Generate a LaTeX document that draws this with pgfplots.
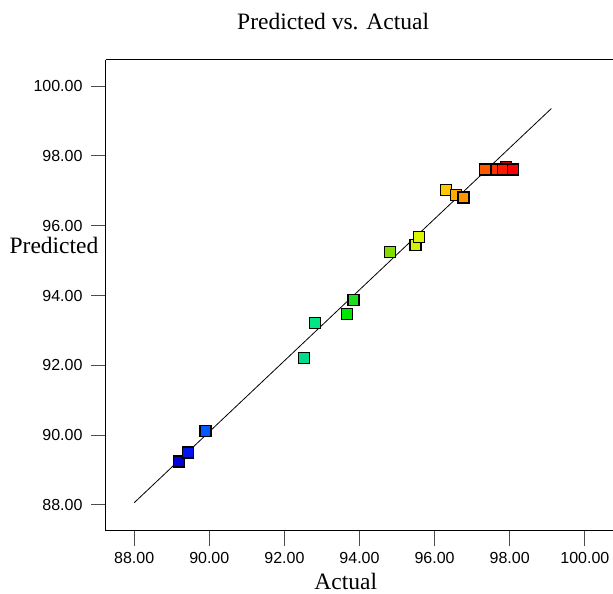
\documentclass[border=0pt]{standalone}
\usepackage{fontspec}
\setmainfont{Liberation Serif}
\newfontfamily\ticksf{Liberation Sans}
\usepackage{pgfplots}
\pgfplotsset{compat=1.18}
\pgfplotstableread{
x y m
97.91 97.69 0
89.20 89.24 1
89.43 89.50 2
89.90 90.12 3
92.53 92.20 4
92.81 93.22 5
93.66 93.48 6
93.84 93.87 7
94.82 95.25 8
95.49 95.45 9
95.59 95.68 10
96.31 97.02 11
96.56 96.89 12
96.77 96.81 13
97.35 97.61 14
97.65 97.61 15
97.83 97.61 16
98.08 97.61 17
}\pts
\begin{document}
\begin{tikzpicture}
\useasboundingbox (-106pt,-63pt) rectangle (507pt,531pt);
\begin{axis}[
  at={(0pt,0pt)}, anchor=south west,
  scale only axis, width=507pt, height=471pt,
  xmin=87.25, xmax=100.75, ymin=87.25, ymax=100.75,
  axis x line*=box, axis y line*=left,
  axis line style={line width=1pt, black},
  xtick={88,90,...,100}, ytick={88,90,...,100},
  xtick pos=bottom, ytick pos=left,
  tick align=outside, major tick length=15pt,
  tick style={line width=1pt, color=black!70},
  /pgf/number format/.cd, fixed, fixed zerofill, precision=2, assume math mode=true,
  /pgfplots/.cd,
  ticklabel style={font=\ticksf\fontsize{16}{16}\selectfont},
  xticklabel style={yshift=-3pt},
  yticklabel style={xshift=-5pt},
  title={Predicted vs. Actual}, xlabel={Actual}, ylabel={Predicted},
  every axis title/.style={at={(axis description cs:0.448,1)}, yshift=38pt, anchor=center, font=\fontsize{23.5}{24}\selectfont},
  every axis x label/.style={at={(axis description cs:0.473,0)}, yshift=-50pt, anchor=center, font=\fontsize{23.5}{24}\selectfont},
  every axis y label/.style={at={(axis description cs:0,0.607)}, xshift=-52pt, anchor=center, font=\fontsize{23.5}{24}\selectfont},
  colormap={pts}{rgb255(0)=(190,0,0) rgb255(1)=(0,0,220) rgb255(2)=(0,20,235) rgb255(3)=(0,90,255) rgb255(4)=(0,220,140) rgb255(5)=(0,230,130) rgb255(6)=(0,230,0) rgb255(7)=(30,220,30) rgb255(8)=(130,220,0) rgb255(9)=(210,240,0) rgb255(10)=(220,245,0) rgb255(11)=(255,200,0) rgb255(12)=(255,170,0) rgb255(13)=(255,150,0) rgb255(14)=(255,90,0) rgb255(15)=(255,50,0) rgb255(16)=(255,25,0) rgb255(17)=(255,0,0)},
  point meta min=0, point meta max=17,
  clip=false,
]
\addplot[black, line width=0.8pt] coordinates {(88,88.06) (99.11,99.36)};
\addplot[scatter, only marks, mark=square*, mark size=5.5pt, point meta=explicit,
  scatter/use mapped color={draw=black, fill=mapped color, line width=1.2pt}]
  table[x=x, y=y, meta=m] {\pts};
\end{axis}
\end{tikzpicture}
\end{document}
